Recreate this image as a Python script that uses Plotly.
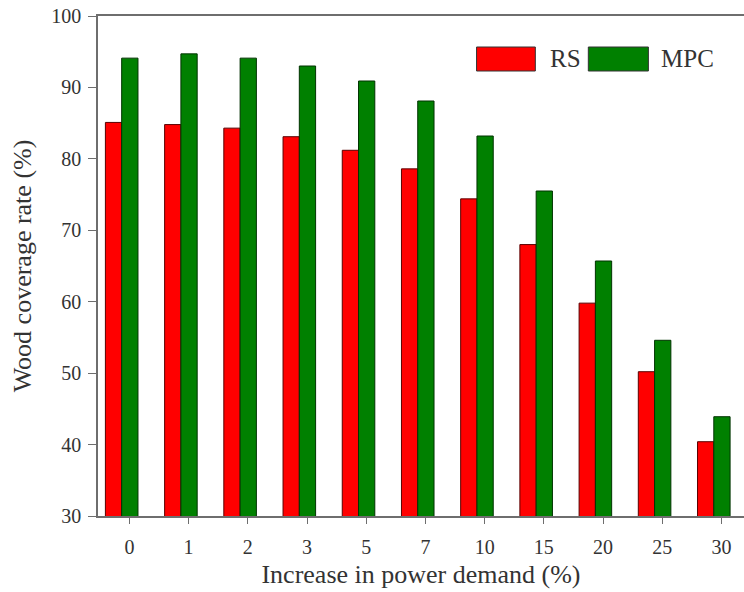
import plotly.graph_objects as go

# Power-demand increase levels (%) and wood coverage rates (%)
demand_labels = ["0", "1", "2", "3", "5", "7", "10", "15", "20", "25", "30"]
rs_values = [85.1, 84.8, 84.3, 83.1, 81.2, 78.6, 74.4, 68.0, 59.8, 50.2, 40.4]
mpc_values = [94.1, 94.7, 94.1, 93.0, 90.9, 88.1, 83.2, 75.5, 65.7, 54.6, 43.9]

series_names = ["RS", "MPC"]
series_colors = ["#ff0000", "#008000"]

FONT = "Liberation Serif, Times New Roman, serif"
TEXT = "#333333"
AXIS = "#6e6e6e"

x_pos = list(range(len(demand_labels)))
bar_w = 0.275

fig = go.Figure()
fig.add_trace(go.Bar(
    x=x_pos, y=rs_values, name=series_names[0],
    width=bar_w, offset=-0.405,
    marker=dict(color=series_colors[0], line=dict(color="#5a0000", width=1)),
))
fig.add_trace(go.Bar(
    x=x_pos, y=mpc_values, name=series_names[1],
    width=bar_w, offset=-0.13,
    marker=dict(color=series_colors[1], line=dict(color="#003300", width=1)),
))

fig.update_layout(
    width=744, height=592,
    margin=dict(l=98, r=0, t=16, b=76),
    paper_bgcolor="white", plot_bgcolor="white",
    showlegend=False,
    barmode="overlay",
    font=dict(family=FONT, color=TEXT, size=20),
)

fig.update_xaxes(
    range=[-0.53, 10.38],
    tickmode="array", tickvals=x_pos, ticktext=demand_labels,
    showline=True, linecolor=AXIS, linewidth=1.5, mirror=True,
    ticks="outside", ticklen=6, tickcolor=AXIS, ticklabelstandoff=6,
    showgrid=False, zeroline=False,
    tickfont=dict(size=20, family=FONT, color=TEXT),
    title=dict(text="Increase in power demand (%)",
               font=dict(size=26, family=FONT, color=TEXT), standoff=8),
)
fig.update_yaxes(
    range=[30, 100], tick0=30, dtick=10,
    showline=True, linecolor=AXIS, linewidth=1.5, mirror=False,
    ticks="outside", ticklen=8, tickcolor=AXIS, ticklabelstandoff=3,
    showgrid=False, zeroline=False,
    tickfont=dict(size=20, family=FONT, color=TEXT),
    title=dict(text="Wood coverage rate (%)",
               font=dict(size=26, family=FONT, color=TEXT), standoff=12),
)

# Legend: wide colour swatches with labels at the top right
swatches = [(0.586, 0.677), (0.759, 0.852)]
label_x = [0.697, 0.869]
for (x0, x1), lx, name, col in zip(swatches, label_x, series_names, series_colors):
    fig.add_shape(type="rect", xref="paper", yref="paper",
                  x0=x0, x1=x1, y0=0.89, y1=0.938,
                  fillcolor=col, line=dict(color="#333333", width=1))
    fig.add_annotation(xref="paper", yref="paper", x=lx, y=0.914,
                       text=name, showarrow=False, xanchor="left", yanchor="middle",
                       font=dict(size=25, family=FONT, color=TEXT))

fig.write_html("out.html")
